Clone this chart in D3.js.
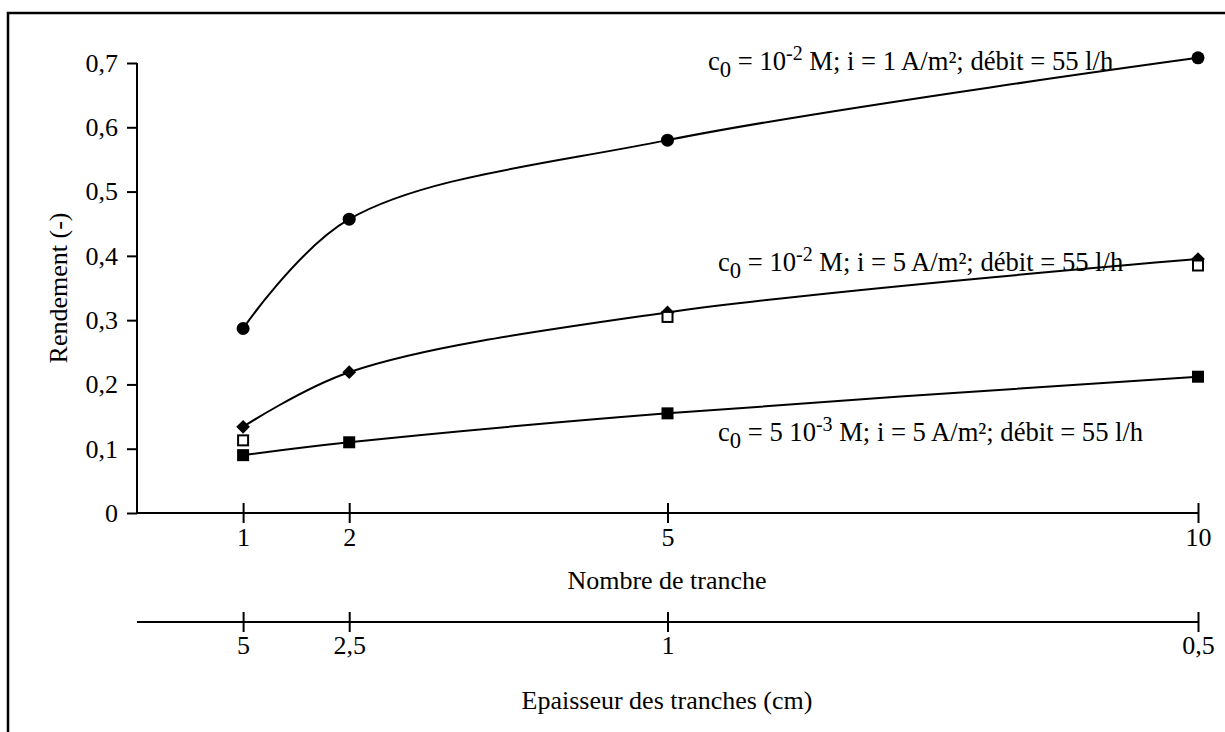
<!DOCTYPE html>
<html><head><meta charset="utf-8">
<script src="https://cdn.jsdelivr.net/npm/d3@7"></script>
<style>
html,body{margin:0;padding:0;background:#fff;}
svg text{font-family:"Liberation Serif","Times New Roman",serif;fill:#000;}
</style></head>
<body><svg id="chart" width="1225" height="732"></svg>
<script>
// ---- data ----
const nTranches = [1, 2, 5, 10];
const thickness = ["5", "2,5", "1", "0,5"];
const yTickValues = [0, 0.1, 0.2, 0.3, 0.4, 0.5, 0.6, 0.7];
const circlesI1 = [0.287, 0.457, 0.580, 0.708];      // c0=1e-2 M, i=1 A/m2
const diamondsI5 = [0.134, 0.219, 0.312, 0.395];     // c0=1e-2 M, i=5 A/m2
const openSquaresI5 = [0.113, null, 0.305, 0.385];   // c0=1e-2 M, i=5 A/m2 (2nd set)
const squaresC5 = [0.090, 0.110, 0.155, 0.212];      // c0=5e-3 M, i=5 A/m2
const labels = [
  {c: "", exp: "-2", i: "1"},
  {c: "", exp: "-2", i: "5"},
  {c: "5 ", exp: "-3", i: "5"}
];

const svg = d3.select("#chart");
const x = d3.scaleLinear().domain([0, 10]).range([137, 1198]);
const y = d3.scaleLinear().domain([0, 0.7]).range([513, 63]);

// border
svg.append("path").attr("d", "M8,732 L8,13 L1225,13").attr("fill", "none")
  .attr("stroke", "#000").attr("stroke-width", 2.5);

const FS = 26;
const LFS = 26.6;

// y axis
const yAxis = svg.append("g").attr("transform", "translate(137,0)")
  .call(d3.axisLeft(y).tickValues(yTickValues).tickSize(10).tickPadding(9)
    .tickFormat(d => d3.format(".1~f")(d).replace(".", ",")));
yAxis.select(".domain").attr("d", "M0,63V513").attr("stroke-width", 2);
yAxis.selectAll(".tick line").attr("stroke-width", 2);
yAxis.selectAll("text").attr("font-size", FS).attr("font-family", "Liberation Serif");

// x axis (Nombre de tranche)
const xAxis = svg.append("g").attr("transform", "translate(0,513)")
  .call(d3.axisBottom(x).tickValues(nTranches).tickSize(0));
xAxis.select(".domain").attr("d", "M137,0H1198").attr("stroke-width", 2);
xAxis.selectAll(".tick line").attr("y1", -10).attr("y2", 10).attr("stroke-width", 2);
xAxis.selectAll("text").attr("font-size", FS).attr("font-family", "Liberation Serif")
  .attr("dy", null).attr("y", 33);

// second axis (Epaisseur)
const x2Axis = svg.append("g").attr("transform", "translate(0,622)")
  .call(d3.axisBottom(x).tickValues(nTranches).tickSize(0)
    .tickFormat((d, i) => thickness[i]));
x2Axis.select(".domain").attr("d", "M137,0H1198").attr("stroke-width", 2);
x2Axis.selectAll(".tick line").attr("y1", -10).attr("y2", 10).attr("stroke-width", 2);
x2Axis.selectAll("text").attr("font-size", FS).attr("font-family", "Liberation Serif")
  .attr("dy", null).attr("y", 32);

// axis titles
svg.append("text").attr("x", 667).attr("y", 589).attr("text-anchor", "middle")
  .attr("font-size", FS).text("Nombre de tranche");
svg.append("text").attr("x", 667).attr("y", 709).attr("text-anchor", "middle")
  .attr("font-size", FS).text("Epaisseur des tranches (cm)");
svg.append("text").attr("transform", "translate(67,288) rotate(-90)")
  .attr("text-anchor", "middle").attr("font-size", FS).text("Rendement (-)");

// curves
const line = d3.line().defined(d => d[1] != null)
  .x(d => x(d[0])).y(d => y(d[1])).curve(d3.curveCatmullRom.alpha(0.5));
[circlesI1, diamondsI5, squaresC5].forEach(s => {
  svg.append("path").datum(nTranches.map((n, i) => [n, s[i]]))
    .attr("d", line).attr("fill", "none").attr("stroke", "#000").attr("stroke-width", 2);
});

// markers
svg.append("g").selectAll("circle").data(nTranches.map((n, i) => [n, circlesI1[i]]))
  .join("circle").attr("cx", d => x(d[0])).attr("cy", d => y(d[1])).attr("r", 6.5);
svg.append("g").selectAll("path").data(nTranches.map((n, i) => [n, diamondsI5[i]]))
  .join("path").attr("d", d3.symbol(d3.symbolDiamond2, 120))
  .attr("transform", d => `translate(${x(d[0])},${y(d[1])})`);
svg.append("g").selectAll("rect").data(nTranches.map((n, i) => [n, squaresC5[i]]))
  .join("rect").attr("x", d => x(d[0]) - 6).attr("y", d => y(d[1]) - 6)
  .attr("width", 12).attr("height", 12);
svg.append("g").selectAll("rect").data(nTranches.map((n, i) => [n, openSquaresI5[i]]).filter(d => d[1] != null))
  .join("rect").attr("x", d => x(d[0]) - 5).attr("y", d => y(d[1]) - 5)
  .attr("width", 10).attr("height", 10).attr("fill", "#fff").attr("stroke", "#000").attr("stroke-width", 2);

// labels
const labelPos = [[708, 70], [718, 271], [718, 441]];
labels.forEach((l, k) => {
  const t = svg.append("text").attr("x", labelPos[k][0]).attr("y", labelPos[k][1]).attr("font-size", LFS);
  t.append("tspan").text("c");
  t.append("tspan").attr("font-size", LFS * 0.85).attr("dy", 7).text("0");
  t.append("tspan").attr("dy", -7).text(" = " + l.c + "10");
  t.append("tspan").attr("font-size", LFS * 0.75).attr("dy", -10).text(l.exp);
  t.append("tspan").attr("dy", 10).text(" M; i = " + l.i + " A/m²; débit = 55 l/h");
});
</script></body></html>
